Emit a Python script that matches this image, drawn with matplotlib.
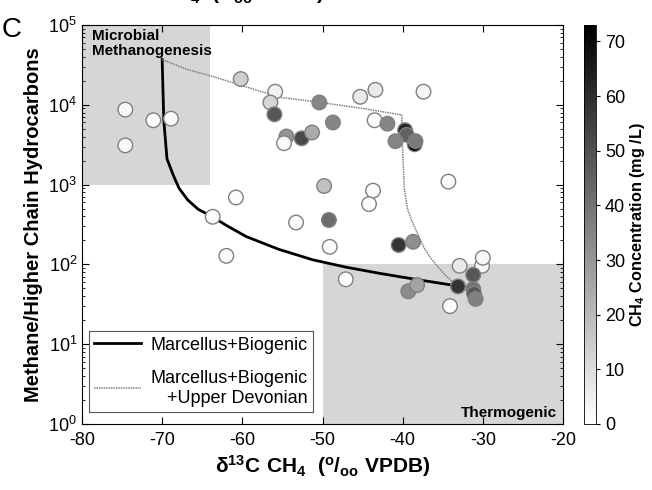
import numpy as np
import matplotlib
matplotlib.use('Agg')
import matplotlib.pyplot as plt
from matplotlib.patches import Rectangle

plt.rcParams['font.family'] = ['Liberation Sans', 'DejaVu Sans']
plt.rcParams['mathtext.fontset'] = 'custom'
plt.rcParams['mathtext.rm'] = 'Liberation Sans'
plt.rcParams['mathtext.bf'] = 'Liberation Sans:bold'
plt.rcParams['axes.unicode_minus'] = False

# 시료 데이터 (δ13C, C1/C2+ 비, CH4 농도)
d13c = [-74.6, -74.6, -71.1, -68.9, -60.2, -55.9, -56.5, -56.0, -50.4, -48.7,
        -54.5, -52.6, -51.3, -54.8, -45.3, -43.4, -37.4, -43.5, -41.9, -39.7,
        -39.5, -40.9, -38.5, -38.4, -49.8, -43.7, -44.2, -60.8, -63.7, -53.3,
        -49.2, -49.1, -62.0, -47.1, -34.3, -40.5, -38.7, -39.3, -38.2, -33.1,
        -34.1, -32.9, -30.1, -30.0, -31.2, -31.2, -31.1, -30.9]
ratio = [8700, 3100, 6400, 6700, 21000, 14600, 10700, 7600, 10700, 6000,
         4000, 3800, 4500, 3300, 12600, 15400, 14600, 6400, 5800, 4800,
         4200, 3500, 3200, 3500, 960, 840, 570, 690, 395, 335,
         360, 166, 128, 65, 1090, 175, 192, 46, 55, 53,
         30, 96, 96, 121, 74, 49, 43, 37]
conc = [2, 2, 1, 2, 14, 4, 12, 48, 35, 35,
        30, 52, 24, 2, 6, 6, 3, 1, 35, 62,
        45, 35, 72, 38, 18, 1, 1, 1, 1, 1,
        42, 1, 1, 1, 1, 58, 32, 33, 26, 58,
        1, 6, 2, 2, 48, 40, 48, 36]

# 혼합 곡선
mb_x = [-70.0, -69.9, -69.8, -69.4, -68.6, -67.9, -66.8, -65.5, -63.8, -61.8,
        -59.5, -55.5, -51.2, -47.0, -42.8, -38.0, -33.3]
mb_y = [37000, 15000, 6400, 2100, 1300, 900, 640, 490, 398, 300,
        223, 155, 114, 92, 77, 64, 54]
mbu_x = [-70.0, -67.0, -63.6, -60.3, -55.3, -50.5, -45.0, -40.1, -40.1, -40.0,
         -39.8, -39.4, -38.9, -38.2, -37.4, -36.5, -35.6, -34.6, -33.3]
mbu_y = [37000, 28000, 22500, 17700, 12400, 10800, 9000, 7450, 5000, 2500,
         900, 500, 360, 250, 166, 120, 93, 72, 54]

fig = plt.figure(figsize=(6.52, 4.9), dpi=100)
ax = fig.add_axes([0.1258, 0.1347, 0.7377, 0.8143])
cax = fig.add_axes([0.8957, 0.1347, 0.0184, 0.8143])

# 영역 표시
ax.add_patch(Rectangle((-80, 1e3), 16, 1e5 - 1e3, facecolor='#d6d6d6', edgecolor='none', zorder=0))
ax.add_patch(Rectangle((-50, 1), 30, 100 - 1, facecolor='#d6d6d6', edgecolor='none', zorder=0))

ax.plot(mb_x, mb_y, color='black', lw=2, label='Marcellus+Biogenic', zorder=2)
ax.plot(mbu_x, mbu_y, color='#808080', lw=1.1, ls=(0, (1, 0.6)),
        label='Marcellus+Biogenic\n+Upper Devonian', zorder=2)

sc = ax.scatter(d13c, ratio, c=conc, cmap='gray_r', vmin=0, vmax=73, s=110,
                edgecolors='#808080', linewidths=1, zorder=3)

ax.set_xlim(-80, -20)
ax.set_ylim(1, 1e5)
ax.set_yscale('log')
ax.set_xticks(np.arange(-80, -19, 10))
ax.tick_params(which='both', direction='in', top=True, right=True, labelsize=13)
ax.tick_params(axis='x', pad=6)
ax.tick_params(which='major', length=5)
ax.tick_params(which='minor', length=2.5)

ax.text(-78.8, 9.0e4, 'Microbial\nMethanogenesis', fontsize=11, fontweight='bold',
        va='top', ha='left', linespacing=1.1)
ax.text(-20.8, 1.12, 'Thermogenic', fontsize=11, fontweight='bold', va='bottom', ha='right')

ax.set_ylabel('Methane/Higher Chain Hydrocarbons', fontsize=14.5, fontweight='bold', labelpad=4)
ax.set_xlabel(r'$\mathbf{\delta^{13}C\ CH_4}$  $\mathbf{(^o/_{oo}\ VPDB)}$', fontsize=15, labelpad=3)

leg = ax.legend(loc='lower left', bbox_to_anchor=(0.014, 0.03), fontsize=13, handlelength=2.6,
                frameon=True, fancybox=False, edgecolor='#555555', framealpha=1,
                borderpad=0.3, labelspacing=0.9, handletextpad=0.5, borderaxespad=0)
for t in leg.get_texts():
    t.set_multialignment('right')
leg.get_frame().set_linewidth(0.8)

cb = fig.colorbar(sc, cax=cax)
cb.set_ticks(np.arange(0, 71, 10))
cb.ax.tick_params(labelsize=13, direction='out', length=3)
cb.outline.set_linewidth(0.6)
cb.set_label(r'$\mathbf{CH_4}$ Concentration (mg /L)', fontsize=11.7, fontweight='bold', labelpad=2)

fig.text(0.003, 0.925, 'C', fontsize=20)
fig.text(0.333, 1.0, r'$\mathbf{\delta^{13}C\ CH_4}$  $\mathbf{(^o/_{oo}\ VPDB)}$',
         fontsize=15, ha='center', va='baseline')

fig.savefig('out.png', dpi=100)
